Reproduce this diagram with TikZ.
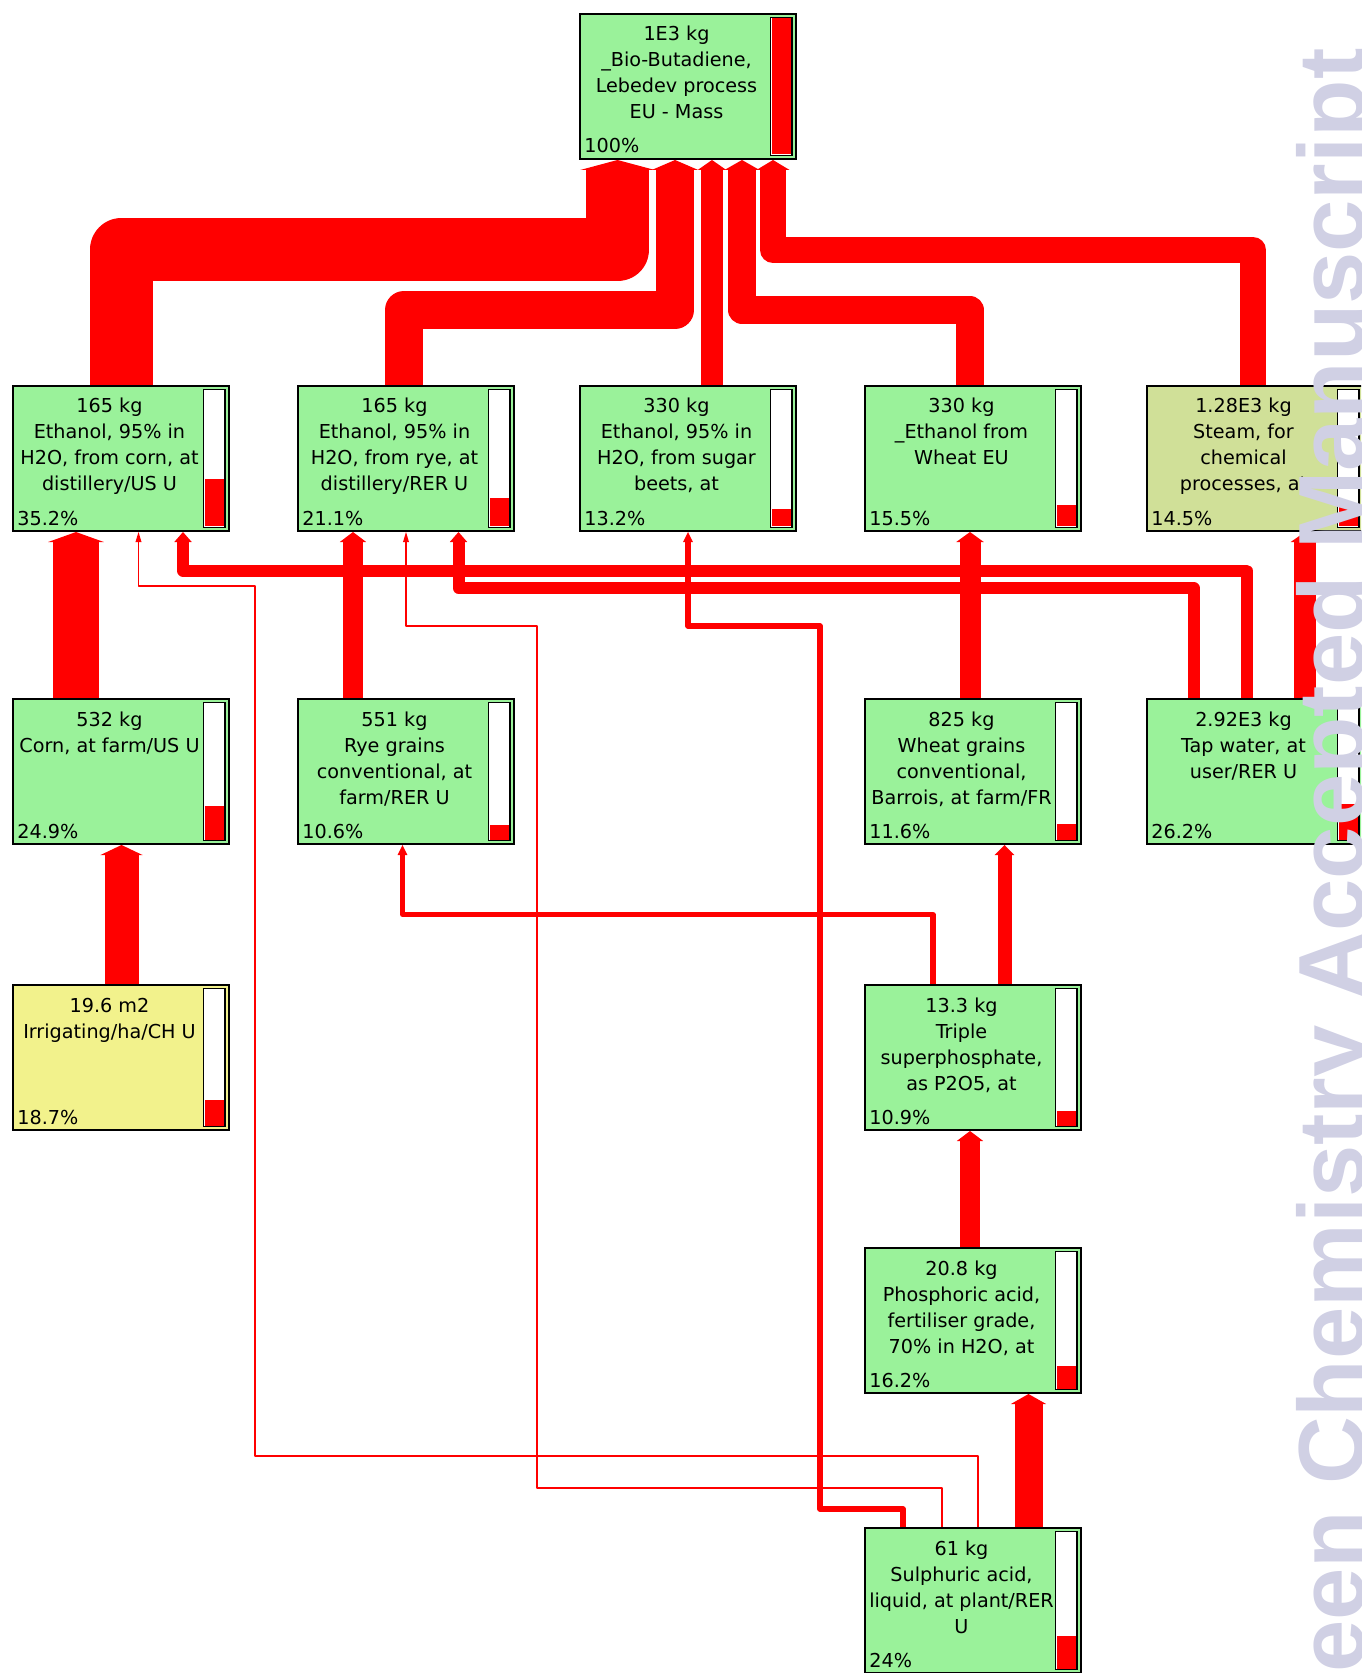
\documentclass[tikz,border=0pt]{standalone}
\usepackage{fontspec}
\setmainfont{DejaVu Sans}
\newfontfamily\markfont{Liberation Sans}
\usetikzlibrary{arrows.meta}

\definecolor{boxgreen}{RGB}{154,242,154}
\definecolor{boxolive}{RGB}{208,224,152}
\definecolor{boxyellow}{RGB}{242,242,140}
\definecolor{flowred}{RGB}{255,0,0}
\definecolor{markgray}{RGB}{208,208,228}

\tikzset{
  procbox/.style={draw=black, line width=0.9pt, anchor=north west, inner sep=0pt, outer sep=0pt,
    minimum width=108pt, minimum height=72.5pt},
  barframe/.style={draw=black, line width=0.8pt, fill=white},
  proclabel/.style={anchor=north, inner sep=0pt, align=center},
  procpct/.style={anchor=base west, inner sep=0pt},
  flow/.style={draw=flowred, line width=#1, line join=round, shorten <=0.45pt, shorten >=0.5pt,
    -{Triangle[length=5pt, width=2pt 1.12, line width=0pt]}},
  watermark/.style={text=markgray, font=\markfont\bfseries\fontsize{47}{47}\selectfont, inner sep=0pt}
}

% name, x, y (top left), fill, label, share, bar level
\newcommand{\procbox}[7]{%
  \node[procbox, fill=#4] (#1) at (#2,#3) {};
  \draw[barframe] ([xshift=-12.75pt,yshift=-1.75pt]#1.north east) rectangle ([xshift=-2pt,yshift=1.75pt]#1.south east);
  \fill[flowred] ([xshift=-12.25pt,yshift=2.25pt]#1.south east) rectangle ([xshift=-2.5pt,yshift={2.25pt+#7*68pt}]#1.south east);
  \node[proclabel] at ([xshift=48.25pt,yshift=-3.3pt]#1.north west) {\rule{0pt}{10pt}#5};
  \node[procpct] at ([xshift=2pt,yshift=3pt]#1.south west) {#6};
}

\begin{document}
\begin{tikzpicture}[x=0.5pt, y=-0.5pt, font=\fontsize{9.6}{13}\selectfont]
\useasboundingbox (0,0) rectangle (1361,1673);
\clip (0,0) rectangle (1361,1673);

\procbox{top}{580}{14}{boxgreen}{1E3 kg\\\_Bio-Butadiene,\\Lebedev process\\EU - Mass}{100\%}{1}

\procbox{ethcorn}{13}{386}{boxgreen}{165 kg\\Ethanol, 95\% in\\H2O, from corn, at\\distillery/US U}{35.2\%}{0.352}
\procbox{ethrye}{298}{386}{boxgreen}{165 kg\\Ethanol, 95\% in\\H2O, from rye, at\\distillery/RER U}{21.1\%}{0.211}
\procbox{ethbeet}{580}{386}{boxgreen}{330 kg\\Ethanol, 95\% in\\H2O, from sugar\\beets, at}{13.2\%}{0.132}
\procbox{ethwheat}{865}{386}{boxgreen}{330 kg\\\_Ethanol from\\Wheat EU}{15.5\%}{0.155}
\procbox{steam}{1147}{386}{boxolive}{1.28E3 kg\\Steam, for\\chemical\\processes, at}{14.5\%}{0.145}

\procbox{corn}{13}{699}{boxgreen}{532 kg\\Corn, at farm/US U}{24.9\%}{0.249}
\procbox{rye}{298}{699}{boxgreen}{551 kg\\Rye grains\\conventional, at\\farm/RER U}{10.6\%}{0.106}
\procbox{wheat}{865}{699}{boxgreen}{825 kg\\Wheat grains\\conventional,\\Barrois, at farm/FR}{11.6\%}{0.116}
\procbox{tapwater}{1147}{699}{boxgreen}{2.92E3 kg\\Tap water, at\\user/RER U}{26.2\%}{0.262}

\procbox{irrig}{13}{985}{boxyellow}{19.6 m2\\Irrigating/ha/CH U}{18.7\%}{0.187}
\procbox{tsp}{865}{985}{boxgreen}{13.3 kg\\Triple\\superphosphate,\\as P2O5, at}{10.9\%}{0.109}
\procbox{phos}{865}{1248}{boxgreen}{20.8 kg\\Phosphoric acid,\\fertiliser grade,\\70\% in H2O, at}{16.2\%}{0.162}
\procbox{sulph}{865}{1528}{boxgreen}{61 kg\\Sulphuric acid,\\liquid, at plant/RER\\U}{24\%}{0.24}

\draw[flow=31.5pt] (ethcorn.north -| 121,0) |- (617.5,250) -- (top.south -| 617.5,0);
\draw[flow=19pt] (ethrye.north -| 404,0) |- (675,310) -- (top.south -| 675,0);
\draw[flow=11pt] (ethbeet.north -| 712,0) -- (top.south -| 712,0);
\draw[flow=13.85pt] (ethwheat.north -| 970,0) |- (742,310) -- (top.south -| 742,0);
\draw[flow=13pt] (steam.north -| 1253,0) |- (773,250) -- (top.south -| 773,0);

\draw[flow=23pt] (corn.north -| 76,0) -- (ethcorn.south -| 76,0);
\draw[flow=0.9pt] (sulph.north -| 978,0) |- (255,1456) |- (138.5,586) -- (ethcorn.south -| 138.5,0);
\draw[flow=6pt] (tapwater.north -| 1246.5,0) |- (183,570.5) -- (ethcorn.south -| 183,0);
\draw[flow=10pt] (rye.north -| 353,0) -- (ethrye.south -| 353,0);
\draw[flow=0.9pt] (sulph.north -| 942,0) |- (537,1488) |- (406,626) -- (ethrye.south -| 406,0);
\draw[flow=6pt] (tapwater.north -| 1193.5,0) |- (458.5,588) -- (ethrye.south -| 458.5,0);
\draw[flow=2.6pt] (sulph.north -| 903,0) |- (820,1509) |- (688,626) -- (ethbeet.south -| 688,0);
\draw[flow=10.5pt] (wheat.north -| 970,0) -- (ethwheat.south -| 970,0);
\draw[flow=11pt] (tapwater.north -| 1305,0) -- (steam.south -| 1305,0);

\draw[flow=17pt] (irrig.north -| 121.5,0) -- (corn.south -| 121.5,0);
\draw[flow=2.6pt] (tsp.north -| 933,0) |- (402.5,914.5) -- (rye.south -| 402.5,0);
\draw[flow=7pt] (tsp.north -| 1004.5,0) -- (wheat.south -| 1004.5,0);
\draw[flow=10pt] (phos.north -| 970,0) -- (tsp.south -| 970,0);
\draw[flow=14pt] (sulph.north -| 1028.5,0) -- (phos.south -| 1028.5,0);

\node[watermark, rotate=90, anchor=base east] (mark) at (1364,48) {Green Chemistry Accepted Manuscript};
\end{tikzpicture}
\end{document}
